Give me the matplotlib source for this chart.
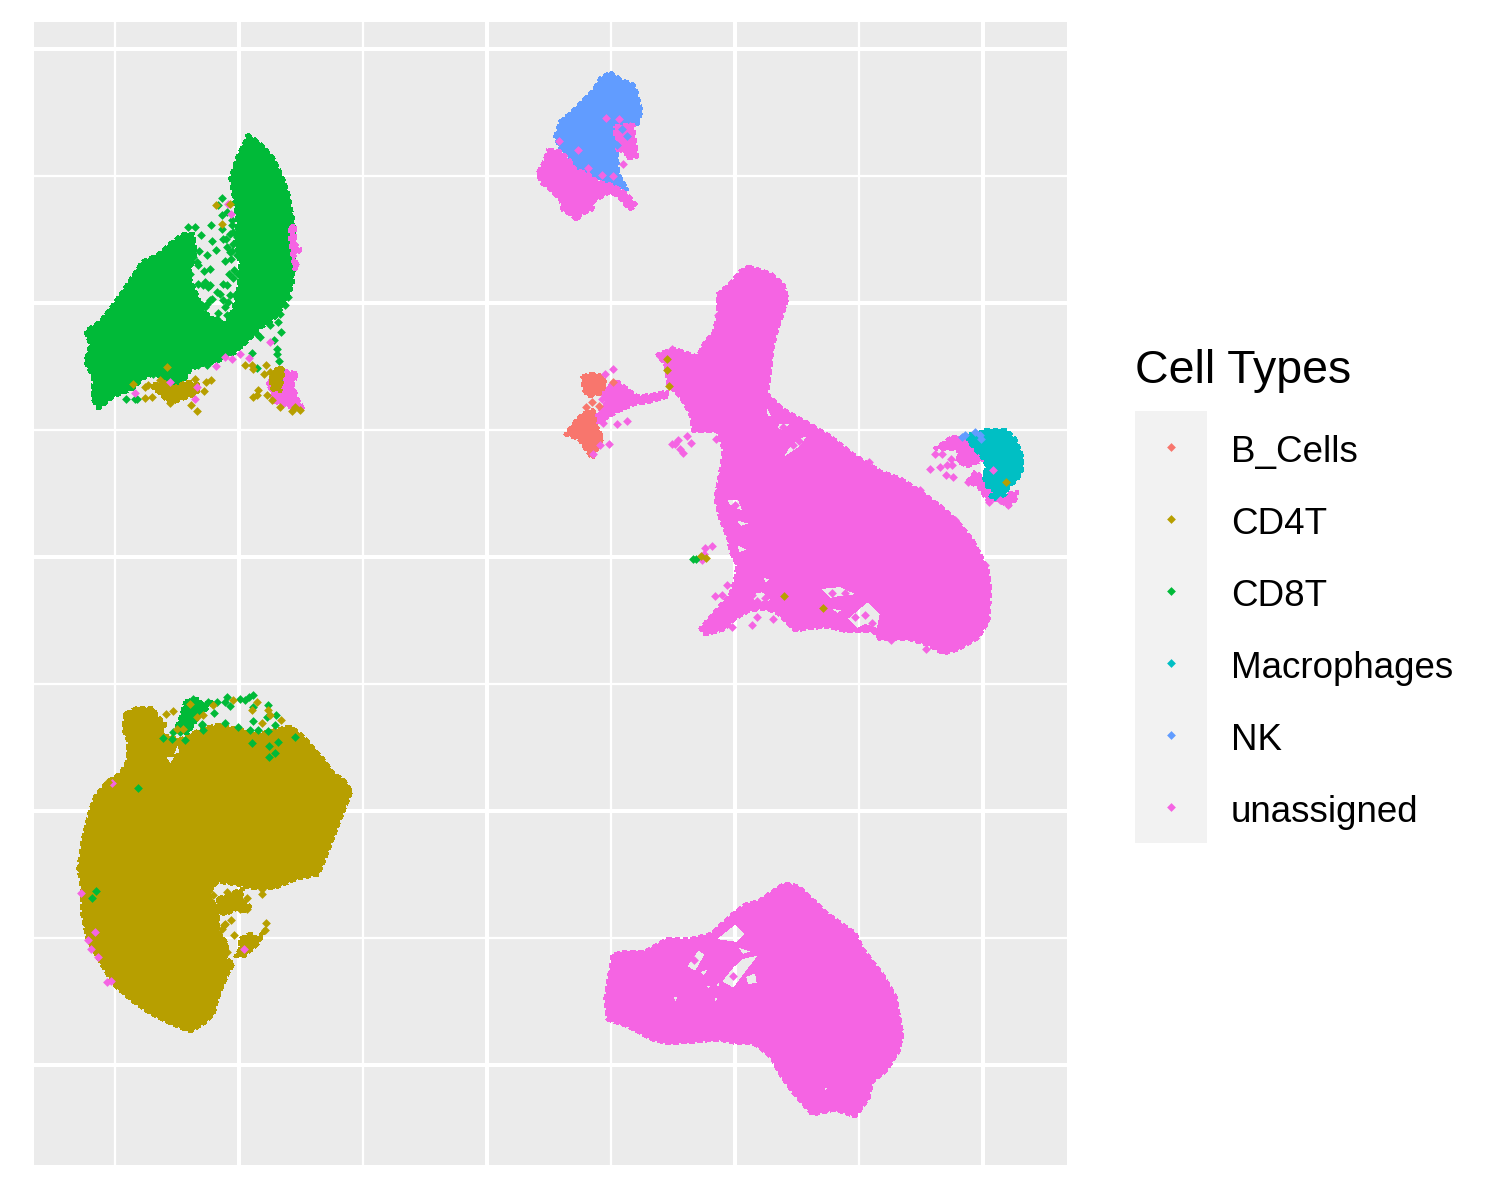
import numpy as np
import matplotlib
matplotlib.use("Agg")
import matplotlib.pyplot as plt
from matplotlib.path import Path
from matplotlib.patches import PathPatch

plt.rcParams['font.family'] = ['Liberation Sans', 'DejaVu Sans']

cell_types = ["B_Cells", "CD4T", "CD8T", "Macrophages", "NK", "unassigned"]
colors = {"B_Cells": "#F8766D", "CD4T": "#B79F00", "CD8T": "#00BA38",
          "Macrophages": "#00BFC4", "NK": "#619CFF", "unassigned": "#F564E3"}

cd8_main = [(-240,422),(-227,413),(-214,398),(-204,377),(-199,362),(-194,335),(-193,295),(-195,272),
            (-200,258),(-209,243),(-217,235),(-230,227),(-240,215),(-254,203),(-270,195),(-284,192),
            (-297,187),(-304,175),(-317,172),(-332,183),(-345,178),(-354,168),(-374,160),(-389,148),
            (-395,158),(-394,178),(-402,195),(-397,212),(-402,225),(-387,235),(-374,252),(-360,272),
            (-345,295),(-329,302),(-317,313),(-305,322),(-294,323),(-292,302),(-299,282),(-289,258),
            (-284,245),(-270,235),(-260,235),(-254,248),(-249,268),(-247,292),(-252,315),(-250,335),
            (-254,362),(-257,378),(-249,402),(-242,415)]
cd8_strays = [(-299,330),(-292,330),(-276,332),(-286,322),(-275,316),(-265,328),(-261,318),(-257,323),
              (-288,306),(-271,307),(-280,302),(-262,296),(-256,298),(-255,306),(-289,292),(-283,286),
              (-277,288),(-253,287),(-258,283),(-254,279),(-297,283),(-282,275),(-277,272),(-264,273),
              (-267,263),(-260,272),(-277,257),(-282,250),(-269,244),(-262,250),(-257,262),(-249,283),
              (-254,313),(-260,345),(-269,352),(-265,359),(-265,342),(-255,337),(-227,220),(-230,223),
              (-217,232),(-209,235),(-206,225),(-213,217),(-210,208),(-210,203),(-208,196),(-202,252),
              (-199,260),(-207,243),(-235,204),(-230,189),(-207,187),(-209,177),(-289,192),(-280,192),
              (-361,158),(-352,158),(-350,158),(-327,187),(-334,183),
              (-284,272),(-279,270),(-289,273),(-280,253),(-275,258),(-285,252),(-270,265),(-264,257),
              (-259,255),(-270,238),(-260,242),(-252,262),(-245,285),(-264,318),(-260,310),(-257,305),
              (-250,320),(-249,313),(-290,295),(-294,300),(-254,325),(-255,332),(-250,302)]
cd4_under_cd8 = [(-334,172),(-320,175),(-317,168),(-307,172),(-300,175),(-289,172),(-290,163),(-304,158),
                 (-317,153),(-327,163),(-334,168)]
cd4_triangle = [(-217,178),(-209,190),(-204,187),(-207,165),(-215,167)]
cd4_strays_top = [(-342,170),(-339,172),(-327,177),(-320,190),(-354,173),(-342,159),(-335,160),(-317,154),
                  (-296,152),(-290,146),(-283,166),(-281,175),(-276,177),(-292,178),(-242,192),(-235,192),
                  (-234,188),(-221,192),(-223,183),(-217,185),(-229,167),(-234,160),(-230,162),(-220,162),
                  (-215,157),(-207,150),(-195,146),(-187,147),(-192,150),(-271,352),(-257,353),(-265,333),
                  (180,187),(180,198),(182,171),(214,1),(219,-1),(336,-51),(297,-39),(519,75)]
un_strip = [(-197,328),(-193,332),(-192,312),(-187,307),(-194,300),(-189,290),(-193,287),(-195,302),(-197,315)]
un_triangle = [(-220,172),(-209,187),(-200,185),(-190,183),(-195,172),(-190,158),(-184,147),(-194,148),
               (-204,152),(-214,155),(-217,168)]
un_strays_cd8 = [(-317,175),(-352,164),(-292,158),(-290,170),(-271,191),(-262,200),(-255,198),(-247,203),
                 (-238,199),(-217,215),(-259,353),(-256,343)]

nk_main = [(123,484),(133,477),(146,472),(150,462),(154,445),(150,432),(140,432),(130,428),(130,395),
           (131,382),(140,367),(133,368),(120,373),(106,380),(96,385),(86,388),(80,402),(73,407),
           (68,420),(73,435),(85,445),(95,455),(105,465),(113,478)]
un_nk_low = [(61,407),(73,405),(83,395),(88,387),(100,383),(110,375),(123,372),(131,368),(140,362),
             (149,351),(142,347),(133,358),(123,365),(106,355),(105,347),(93,342),(90,336),(83,342),
             (75,347),(73,357),(63,367),(55,373),(50,383),(56,393)]
un_nk_right = [(128,430),(140,432),(146,432),(148,412),(150,400),(140,398),(138,405),(128,407),(133,415),(128,420)]
un_strays_nk = [(72,416),(119,439),(91,407),(101,389),(126,381),(136,393),(132,438),(143,431),(115,382)]
nk_strays = [(140,421),(135,428),(130,412)]

un_body = [(261,290),(283,283),(296,272),(300,258),(295,242),(290,228),(285,208),(280,162),(296,147),
           (323,132),(343,120),(366,102),(393,85),(413,78),(433,65),(456,48),(473,32),(486,15),(500,-12),
           (503,-32),(501,-65),(490,-82),(470,-93),(456,-97),(440,-88),(423,-83),(393,-83),(386,-75),
           (360,-75),(340,-70),(320,-72),(308,-74),(296,-62),(288,-55),(273,-52),(260,-55),(248,-62),
           (236,-73),(218,-78),(213,-72),(226,-57),(243,-38),(248,-22),(250,-8),(243,5),(241,18),(233,38),
           (228,58),(233,85),(236,102),(236,108),(230,125),(206,125),(203,142),(196,155),(191,162),(181,172),
           (178,192),(170,202),(186,208),(210,200),(218,215),(226,223),(231,245),(230,262),(243,273),(253,285)]
un_body_holes = [[(310,117),(321,122),(313,110),(301,102),(295,98),(300,107)],
                 [(240,57),(251,57),(256,45),(248,48),(241,52)],
                 [(248,37),(263,33),(253,30)],
                 [(360,-62),(380,-45),(393,-57),(390,-72),(378,-68),(370,-72)],
                 [(333,-32),(353,-30),(370,-38),(353,-40),(343,-42)],
                 [(262,-38),(275,-35),(285,-44),(272,-46),(265,-43)],
                 [(275,-20),(283,-23),(278,-27)],
                 [(343,-52),(356,-53),(350,-57)],
                 [(278,152),(285,140),(280,140)],
                 [(291,133),(303,133),(296,125),(290,128)],
                 [(250,12),(260,7),(251,3)]]
un_arm = [(180,165),(166,162),(150,160),(143,165),(130,175),(121,170),(115,163),(120,155),(110,142),
          (105,132),(113,135),(130,145),(146,152),(163,155),(180,160)]
b_upper = [(95,180),(106,183),(116,180),(118,172),(113,163),(101,160),(96,167)]
b_lower = [(106,147),(108,132),(113,123),(115,118),(110,108),(105,98),(98,108),(91,118),(78,122),(88,135),(96,143)]
b_strays = [(99,150),(105,155),(112,151),(126,175)]
un_strays_body = [(113,112),(106,103),(126,188),(118,183),(130,133),(140,136),(116,134),(122,113),(115,158),
                  (185,208),(173,201),(200,121),(204,114),(188,113),(193,108),(196,104),(231,242),(229,118),
                  (191,117),(185,113),(382,95),(433,67),(468,37),(498,-8),(228,-39),(235,-38),(265,-68),
                  (245,-70),(270,-60),(286,-62),(265,-38),(240,-28),(439,-92),(404,-83),(225,11),(218,9),
                  (217,3),(215,-3),(378,-58),(368,-60),(385,-66),(345,-36),(358,-36),(278,-41),(306,112),
                  (312,116),(248,52),(296,130),(270,-44)]
cd8_strays_small = [(209,-2),(206,-2)]

macro_main = [(498,127),(518,127),(528,117),(535,100),(535,87),(530,77),(521,70),(518,62),(508,57),(503,60),
              (508,65),(500,70),(496,80),(500,90),(496,98),(488,107),(481,115),(481,122),(491,123)]
un_macro_up = [(465,120),(481,120),(485,113),(498,110),(496,97),(480,90),(470,95),(471,107),(458,107),(448,108)]
un_macro_low = [(480,75),(488,85),(496,77),(500,68),(518,62),(530,65),(528,57),(521,50),(510,57),(501,55),(491,70)]
un_strays_macro = [(443,88),(453,90),(460,92),(465,92),(464,98),(459,82),(466,80),(448,103),(455,103),(502,55),
                   (513,57),(521,52),(506,87),(488,82),(481,75)]
nk_strays_macro = [(478,122),(475,120),(488,125),(493,122),(494,118)]

cd4_main = [(-362,-157),(-350,-151),(-334,-152),(-330,-160),(-322,-168),(-327,-178),(-307,-183),(-284,-172),
            (-267,-168),(-250,-173),(-227,-177),(-197,-170),(-184,-180),(-164,-203),(-154,-217),(-144,-223),
            (-136,-235),(-147,-262),(-157,-288),(-169,-318),(-190,-322),(-214,-332),(-234,-332),(-250,-328),
            (-270,-325),(-279,-337),(-269,-355),(-269,-375),(-260,-388),(-262,-402),(-254,-407),(-260,-418),
            (-270,-442),(-274,-458),(-284,-467),(-297,-475),(-317,-467),(-337,-457),(-354,-445),(-374,-428),
            (-389,-402),(-400,-382),(-405,-358),(-405,-335),(-409,-312),(-405,-285),(-397,-253),(-392,-240),
            (-380,-225),(-367,-217),(-360,-205),(-359,-185),(-364,-173)]
cd4_holes = [[(-322,-200),(-312,-200),(-317,-208)],
             [(-310,-187),(-307,-197),(-314,-198)]]
cd4_arm = [(-247,-382),(-237,-377),(-230,-382),(-222,-373),(-230,-388),(-244,-400),(-252,-400),(-247,-392)]
cd4_mid = [(-269,-342),(-244,-332),(-247,-343),(-237,-350),(-244,-355),(-250,-352),(-262,-358),(-269,-355)]
cd4_strays = [(-240,-341),(-225,-332),(-225,-337),(-221,-366),(-222,-373),(-256,-363),(-253,-378),(-260,-395),
              (-263,-368),(-321,-157),(-314,-154),(-274,-148),(-225,-166),(-206,-163),(-230,-145),(-219,-153),
              (-217,-158),(-235,-153),(-254,-143),(-379,-225),(-297,-147),(-284,-158),(-310,-172),(-304,-172),
              (-260,-335),(-254,-338),(-267,-347),(-257,-352),(-247,-352),(-240,-352),(-262,-367),(-265,-372),
              (-262,-342),(-274,-338),(-250,-345),(-290,-160)]
cd8_top = [(-302,-145),(-290,-142),(-285,-148),(-274,-145),(-287,-158),(-294,-168),(-300,-177),(-312,-173),(-307,-162)]
cd8_strays_cd4 = [(-324,-181),(-315,-182),(-302,-183),(-314,-175),(-285,-168),(-273,-156),(-262,-166),(-249,-170),
                  (-237,-173),(-234,-164),(-229,-173),(-219,-174),(-212,-168),(-220,-160),(-211,-158),(-219,-148),
                  (-234,-150),(-238,-140),(-247,-142),(-257,-149),(-262,-145),(-260,-140),(-234,-138),(-242,-143),
                  (-192,-180),(-218,-189),(-209,-185),(-235,-186),(-349,-231),(-391,-334),(-395,-341),(-212,-196),
                  (-218,-200),(-290,-150),(-294,-163),(-285,-167),(-300,-168),(-307,-175),(-284,-173),(-294,-142),
                  (-279,-145),(-270,-145)]
un_strays_cd4 = [(-406,-336),(-392,-375),(-399,-383),(-389,-400),(-380,-425),(-376,-424),(-243,-392),(-375,-226),(-396,-392)]

un_bottom = [(298,-327),(311,-330),(341,-358),(368,-377),(375,-392),(395,-418),(408,-440),(415,-478),(411,-495),
             (398,-515),(385,-525),(381,-542),(368,-560),(348,-553),(325,-558),(305,-535),(291,-515),(285,-502),
             (271,-490),(265,-487),(251,-487),(231,-483),(208,-485),(181,-487),(165,-483),(141,-470),(120,-463),
             (118,-442),(123,-412),(125,-398),(141,-395),(158,-395),(181,-382),(201,-383),(225,-377),(235,-367),
             (245,-358),(258,-348),(271,-345),(288,-333)]
un_bottom_holes = [[(228,-383),(248,-367),(258,-378),(250,-386)],
                   [(250,-390),(265,-395),(255,-398)],
                   [(234,-425),(246,-410),(255,-402),(272,-398),(258,-416),(246,-432)],
                   [(258,-420),(268,-416),(270,-427),(260,-428)],
                   [(199,-410),(211,-393),(218,-398),(208,-415)],
                   [(212,-415),(222,-412),(216,-420)],
                   [(226,-440),(232,-442),(228,-446)],
                   [(185,-440),(191,-440),(188,-446)],
                   [(228,-427),(233,-426),(231,-432)],
                   [(218,-430),(224,-428),(222,-433)],
                   [(336,-531),(340,-531),(339,-537)]]
un_strays_bottom = [(246,-419),(207,-403)]


def ring(points, clockwise):
    pts = np.array(points, dtype=float)
    x, y = pts[:, 0], pts[:, 1]
    area = 0.5 * np.sum(x * np.roll(y, -1) - np.roll(x, -1) * y)
    if (area < 0) != clockwise:
        pts = pts[::-1]
    return pts


def blob(ax, points, cell, holes=(), z=2):
    # filled region of overplotted cells, bumpy dotted edge stands in for the single points
    verts, codes = [], []
    for i, part in enumerate([points] + list(holes)):
        pts = ring(part, clockwise=(i == 0))
        verts.extend(pts.tolist() + [pts[0].tolist()])
        codes.extend([Path.MOVETO] + [Path.LINETO] * (len(pts) - 1) + [Path.CLOSEPOLY])
    ax.add_patch(PathPatch(Path(verts, codes), facecolor=colors[cell], edgecolor="none",
                           antialiased=False, zorder=z))
    outline = np.vstack([ring(points, True), ring(points, True)[:1]])
    ax.plot(outline[:, 0], outline[:, 1], color=colors[cell], lw=2.4, ls=(0, (1.5, 1.0)),
            zorder=z, antialiased=False)


def strays(ax, points, cell, z=3):
    pts = np.array(points)
    ax.scatter(pts[:, 0], pts[:, 1], s=20, marker="D", color=colors[cell], linewidths=0, zorder=z)


fig = plt.figure(figsize=(15, 12), dpi=100, facecolor="white")
ax = fig.add_axes([34 / 1500, 1 - 1165 / 1200, 1033 / 1500, 1143 / 1200], facecolor="#EBEBEB")
ax.set_xlim(-453.4, 579.6)
ax.set_ylim(-608.5, 534.5)

ax.set_xticks(np.arange(-1, 3) * 248)
ax.set_xticks((np.arange(-2, 2) + 0.5) * 248, minor=True)
ax.set_yticks(np.arange(-2, 3) * 254)
ax.set_yticks((np.arange(-2, 2) + 0.5) * 254, minor=True)
ax.grid(True, which="major", color="white", lw=2.9)
ax.grid(True, which="minor", color="white", lw=1.6)
ax.set_axisbelow(True)
ax.tick_params(which="both", length=0, labelbottom=False, labelleft=False)
for s in ax.spines.values():
    s.set_visible(False)

blob(ax, cd8_main, "CD8T")
blob(ax, cd4_under_cd8, "CD4T", z=3)
blob(ax, un_strip, "unassigned", z=3)
blob(ax, un_triangle, "unassigned", z=3)
blob(ax, cd4_triangle, "CD4T", z=4)
strays(ax, cd8_strays, "CD8T")
strays(ax, un_strays_cd8, "unassigned", z=4)
strays(ax, cd4_strays_top, "CD4T", z=5)

blob(ax, nk_main, "NK")
blob(ax, un_nk_low, "unassigned", z=3)
blob(ax, un_nk_right, "unassigned", z=3)
strays(ax, un_strays_nk, "unassigned", z=4)
strays(ax, nk_strays, "NK", z=4)

blob(ax, un_body, "unassigned", holes=un_body_holes)
blob(ax, un_arm, "unassigned")
blob(ax, b_upper, "B_Cells", z=3)
blob(ax, b_lower, "B_Cells", z=3)
strays(ax, b_strays, "B_Cells", z=4)
strays(ax, un_strays_body, "unassigned")
strays(ax, cd8_strays_small, "CD8T", z=4)

blob(ax, un_macro_up, "unassigned")
blob(ax, un_macro_low, "unassigned")
blob(ax, macro_main, "Macrophages", z=3)
strays(ax, un_strays_macro, "unassigned", z=4)
strays(ax, nk_strays_macro, "NK", z=4)

blob(ax, cd4_main, "CD4T", holes=cd4_holes)
blob(ax, cd4_arm, "CD4T")
blob(ax, cd4_mid, "CD4T")
blob(ax, cd8_top, "CD8T", z=4)
strays(ax, cd8_strays_cd4, "CD8T", z=5)
strays(ax, cd4_strays, "CD4T", z=6)
strays(ax, un_strays_cd4, "unassigned", z=5)

blob(ax, un_bottom, "unassigned", holes=un_bottom_holes)
strays(ax, un_strays_bottom, "unassigned")

# legend keys, one cell per type
leg = fig.add_axes([1135 / 1500, 1 - 843 / 1200, 72 / 1500, 432 / 1200], facecolor="#F2F2F2")
leg.set_xlim(0, 1)
leg.set_ylim(len(cell_types), 0)
leg.set_xticks([])
leg.set_yticks([])
for s in leg.spines.values():
    s.set_visible(False)
for i, cell in enumerate(cell_types):
    leg.scatter(0.5, i + 0.5, s=20, marker="D", color=colors[cell], linewidths=0)
    leg.text(96 / 72, i + 0.57, cell, fontsize=26.5, va="center", ha="left", color="black", clip_on=False)
leg.text(0.0, -0.55, "Cell Types", fontsize=33.5, va="center", ha="left", color="black", clip_on=False)

fig.savefig("out.png", dpi=100)
